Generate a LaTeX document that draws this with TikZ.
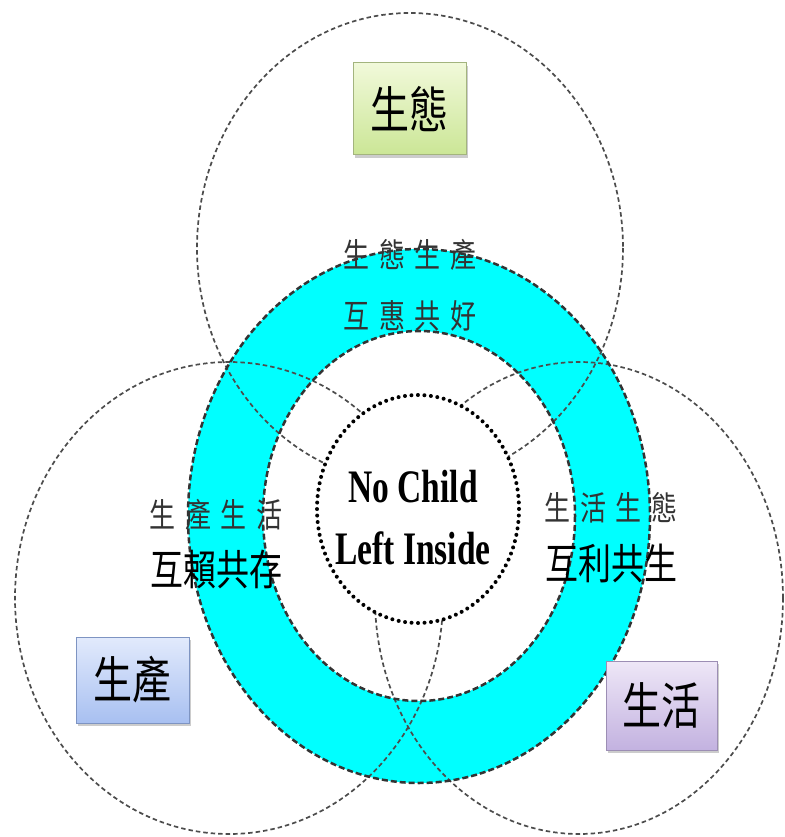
\documentclass[tikz,border=0pt]{standalone}
\usepackage{fontspec}
\usepackage{graphicx}
\setmainfont{Liberation Serif}
\newfontfamily\cjk{Noto Sans CJK TC}
\newfontfamily\cjkwide{Noto Sans CJK TC}[LetterSpace=38]
\usetikzlibrary{positioning, shadows}

\newcommand{\vstretch}[2][1.28]{\scalebox{1}[#1]{#2}}

\definecolor{ringcyan}{RGB}{0,255,255}
\definecolor{ecotop}{HTML}{F1F9DA}
\definecolor{ecobot}{HTML}{CBE696}
\definecolor{ecoline}{HTML}{A3B47E}
\definecolor{prodtop}{HTML}{E2EAFC}
\definecolor{prodbot}{HTML}{A8C0F1}
\definecolor{prodline}{HTML}{7E94C2}
\definecolor{lifetop}{HTML}{EEE7F7}
\definecolor{lifebot}{HTML}{C3B2E0}
\definecolor{lifeline}{HTML}{9C8EB4}

\begin{document}
\begin{tikzpicture}[
    x=1pt, y=-1pt,
    node distance=20pt,
    sphere/.style={
        draw=black!70,
        line width=1.7pt,
        dash pattern=on 4.5pt off 3pt
    },
    ringedge/.style={
        draw=black!80,
        line width=2.5pt,
        dash pattern=on 6pt off 3pt
    },
    core/.style={
        draw=black,
        fill=white,
        line width=4pt,
        line cap=round,
        dash pattern=on 0pt off 6.5pt
    },
    tag/.style={
        rectangle,
        draw,
        line width=1pt,
        inner sep=0pt,
        font=\cjk\fontsize{39}{39}\selectfont,
        drop shadow={opacity=0.4, shadow xshift=1.5pt, shadow yshift=-3pt}
    },
    pairtext/.style={
        inner sep=0pt,
        text=black!80,
        font=\cjkwide\fontsize{26}{26}\selectfont
    },
    bondtext/.style={
        inner sep=0pt,
        font=\cjk\fontsize{33}{33}\selectfont
    },
    slogan/.style={
        inner sep=0pt,
        font=\bfseries\fontsize{33.5}{33.5}\selectfont
    }
]

\useasboundingbox (0,0) rectangle (784,837);

% Ring
\fill[ringcyan, even odd rule] (419,516) ellipse [x radius=231, y radius=267]
                               (419,516) ellipse [x radius=156, y radius=185];

% Spheres
\draw[sphere] (410,248) ellipse [x radius=213, y radius=235];
\draw[sphere] (229,598) ellipse [x radius=214, y radius=236];
\draw[sphere] (579,598) ellipse [x radius=204, y radius=236];

% Ring edges
\draw[ringedge] (419,516) ellipse [x radius=231, y radius=267];
\draw[ringedge] (419,516) ellipse [x radius=156, y radius=185];

% Core
\draw[core] (418,509) ellipse [x radius=101, y radius=114];

% Tags
\node[tag, draw=ecoline, top color=ecotop, bottom color=ecobot,
      minimum width=113pt, minimum height=92pt] (eco) at (409.5,109) {\vstretch{生態}};
\node[tag, draw=prodline, top color=prodtop, bottom color=prodbot,
      minimum width=113pt, minimum height=86pt] (prod) at (132.5,680) {\vstretch{生產}};
\node[tag, draw=lifeline, top color=lifetop, bottom color=lifebot,
      minimum width=111pt, minimum height=89pt] (life) at (661.5,705.5) {\vstretch{生活}};

% Pairs
\node[pairtext] (ecoprod) at (410,255) {\vstretch{生態生產}};
\node[pairtext, below=30pt of ecoprod] (ecoprodbond) {\vstretch{互惠共好}};

\node[pairtext] (prodlife) at (216,515) {\vstretch{生產生活}};
\node[bondtext, below=19pt of prodlife] (prodlifebond) {\vstretch{互賴共存}};

\node[pairtext] (lifeeco) at (611,508) {\vstretch{生活生態}};
\node[bondtext, below=20pt of lifeeco] (lifeecobond) {\vstretch{互利共生}};

% Slogan
\node[slogan] (nochild) at (413,487) {\vstretch[1.39]{No Child}};
\node[slogan, below=27.5pt of nochild] (leftinside) {\vstretch[1.39]{Left Inside}};

\end{tikzpicture}
\end{document}
